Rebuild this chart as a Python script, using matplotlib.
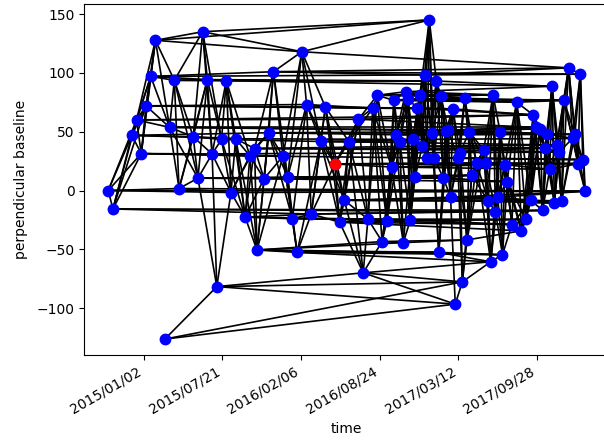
import numpy as np
import matplotlib
matplotlib.use('Agg')
import matplotlib.pyplot as plt
import matplotlib.dates as mdates

# fechas de adquisicion y baseline perpendicular
fechas = ['2014-10-04', '2014-10-16', '2014-12-03', '2014-12-15', '2014-12-27',
          '2015-01-08', '2015-01-20', '2015-02-01', '2015-02-25', '2015-03-09',
          '2015-03-21', '2015-04-02', '2015-05-08', '2015-05-20', '2015-06-01',
          '2015-06-13', '2015-06-25', '2015-07-07', '2015-07-19', '2015-07-31',
          '2015-08-12', '2015-08-24', '2015-09-17', '2015-09-29', '2015-10-11',
          '2015-10-17', '2015-11-04', '2015-11-16', '2015-11-28', '2015-12-22',
          '2016-01-03', '2016-01-15', '2016-01-27', '2016-02-08', '2016-02-20',
          '2016-03-03', '2016-03-27', '2016-04-08', '2016-05-02', '2016-05-14',
          '2016-05-26', '2016-06-07', '2016-07-01', '2016-07-13', '2016-07-25',
          '2016-08-06', '2016-08-18', '2016-08-30', '2016-09-11', '2016-09-23',
          '2016-09-29', '2016-10-05', '2016-10-14', '2016-10-23', '2016-10-29',
          '2016-11-04', '2016-11-10', '2016-11-16', '2016-11-22', '2016-11-28',
          '2016-12-04', '2016-12-10', '2016-12-16', '2016-12-22', '2016-12-28',
          '2017-01-03', '2017-01-09', '2017-01-15', '2017-01-21', '2017-01-27',
          '2017-02-02', '2017-02-08', '2017-02-14', '2017-02-20', '2017-02-26',
          '2017-03-04', '2017-03-10', '2017-03-16', '2017-03-22', '2017-03-28',
          '2017-04-03', '2017-04-09', '2017-04-15', '2017-04-27', '2017-05-15',
          '2017-05-21', '2017-05-27', '2017-06-02', '2017-06-08', '2017-06-14',
          '2017-06-20', '2017-06-26', '2017-07-02', '2017-07-08', '2017-07-14',
          '2017-07-26', '2017-08-07', '2017-08-19', '2017-08-31', '2017-09-12',
          '2017-09-18', '2017-09-24', '2017-10-06', '2017-10-12', '2017-10-18',
          '2017-10-24', '2017-10-30', '2017-11-05', '2017-11-11', '2017-11-17',
          '2017-11-23', '2017-11-29', '2017-12-05', '2017-12-17', '2017-12-27',
          '2018-01-02', '2018-01-10', '2018-01-16', '2018-01-22', '2018-01-28']
bperp = [0, -15.7, 46.9, 60, 31.4,
         72, 97, 127.7, -126.3, 53.7,
         93.7, 1.7, 45.7, 10.5, 135,
         94.3, 31.1, -81.7, 43.4, 93.4,
         -1.7, 44, -22.6, 29.4, 35.7,
         -50.6, 10, 49.1, 101, 29.1,
         11.4, -24, -52.6, 118, 73.1,
         -20, 41.7, 70.9, 22.6, -26.9,
         -8.3, 41.4, 60.6, -70, -24.3,
         70, 81, -43.4, -26, 20,
         76.6, 47.4, 40.9, -44.3, 84,
         77.7, -24.9, 43.4, 11.4, 70,
         81, 37.7, 98.3, 27.7, 145,
         49.1, 27.7, 93.1, -52.6, 80,
         10.5, 50.9, 51.4, -5.7, 69.4,
         -96.6, 27.7, 32.3, -77.7, 78.3,
         -42, 50, 13.1, 23.4, 34.3,
         23.4, -9.1, -60.6, 81.4, -18,
         -5.7, 49.7, -54.6, 22, 7.5,
         -28.9, 75.1, -34.3, -24.6, -8.3,
         64.3, 53.7, 52.3, -16.9, 36,
         48, 18, 88.6, -10.9, 38.6,
         32.6, -8.9, 76.6, 104.3, 44.3,
         47.7, 22.9, 98.9, 26.3, -0.6]
fecha_ref = '2016-05-02'
ticks_x = ['2015-01-02', '2015-07-21', '2016-02-06', '2016-08-24', '2017-03-12', '2017-09-28']

# criterios de la red de interferogramas
n_secuencial = 4
max_bperp_secuencial = 120
k_vecinos = 3
dias_por_metro = 200

t = np.array(fechas, dtype='datetime64[D]')
b = np.array(bperp, dtype=float)
dias = (t - t.min()).astype(float)

pares = set()
orden = np.argsort(dias)
for pos, i in enumerate(orden):
    for j in orden[pos + 1:pos + 1 + n_secuencial]:
        if abs(b[i] - b[j]) < max_bperp_secuencial:
            pares.add((min(i, j), max(i, j)))
for i in range(len(b)):
    dist = np.hypot((dias - dias[i]) / dias_por_metro, b - b[i])
    dist[i] = np.inf
    for j in np.argsort(dist)[:k_vecinos]:
        pares.add((min(i, j), max(i, j)))

fig = plt.figure(figsize=(6.04, 4.46), dpi=100)
ax = fig.add_axes([0.1397, 0.2040, 0.8685, 0.7870])
for i, j in sorted(pares):
    ax.plot([t[i], t[j]], [b[i], b[j]], color='black', lw=1.2, zorder=1)
ax.plot(t, b, 'o', color='blue', ms=7.5, zorder=2)
iref = fechas.index(fecha_ref)
ax.plot(t[iref], b[iref], 'o', color='red', ms=7.5, zorder=3)

ax.set_xticks(np.array(ticks_x, dtype='datetime64[D]'))
ax.xaxis.set_major_formatter(mdates.DateFormatter('%Y/%m/%d'))
plt.setp(ax.get_xticklabels(), rotation=30, ha='right')
ax.set_xlabel('time')
ax.set_ylabel('perpendicular baseline', labelpad=6)
fig.savefig('out.png', dpi=100)
